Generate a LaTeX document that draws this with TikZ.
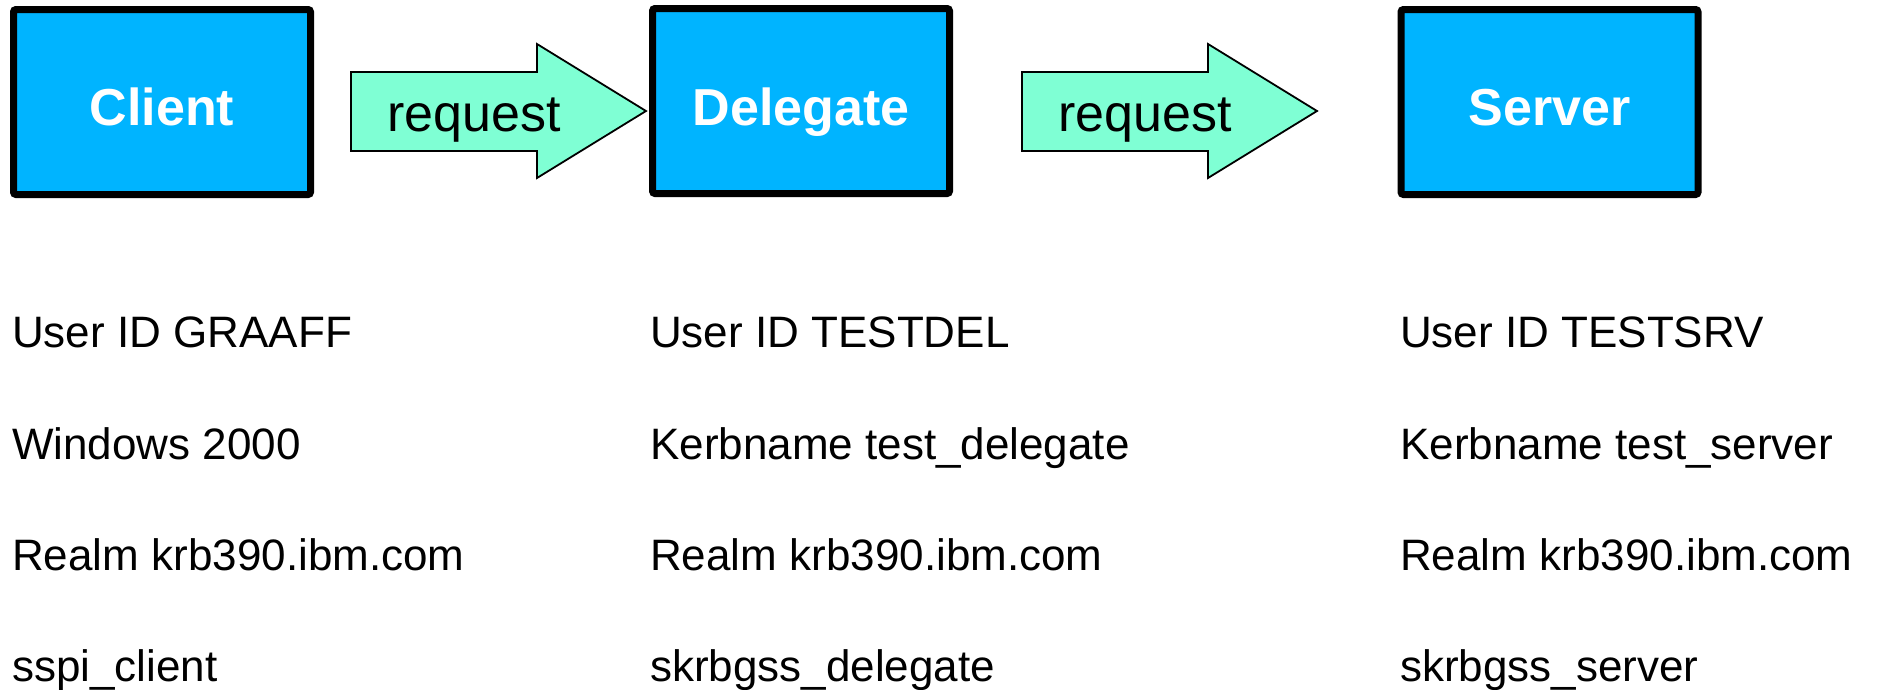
\documentclass[tikz,border=0pt]{standalone}
\usepackage{fontspec}
\setmainfont{Liberation Sans}
\definecolor{boxblue}{RGB}{0,180,255}
\definecolor{arrowgreen}{RGB}{127,255,212}
\begin{document}
\begin{tikzpicture}[x=1pt,y=-1pt,
  hostbox/.style={draw=black, line width=7pt, fill=boxblue, rounded corners=2.5pt,
    minimum width=297pt, minimum height=185pt, inner sep=0pt},
  hostlabel/.style={anchor=base, text=white, inner sep=0pt,
    font=\fontsize{52}{60}\selectfont\bfseries},
  blockarrow/.style={draw=black, line width=1.8pt, fill=arrowgreen, line join=miter},
  reqlabel/.style={anchor=base west, inner sep=0pt, font=\fontsize{52}{60}\selectfont},
  info/.style={anchor=base west, inner sep=0pt, font=\fontsize{44}{52}\selectfont},
  request arrow/.pic={
    \draw[blockarrow] (0,-39) -- (186,-39) -- (186,-67) -- (295,0)
      -- (186,67) -- (186,40) -- (0,40) -- cycle;
    \node[reqlabel] (-text) at (36,20) {request};
  }]
\useasboundingbox (0,0) rectangle (1877,689);

% the three hosts
\node[hostbox] (client)   at (162,102)    {};
\node[hostbox] (delegate) at (801,101)    {};
\node[hostbox] (server)   at (1549.5,102) {};

\node[hostlabel] (clientlbl)   at (client.center   |- 0,125) {Client};
\node[hostlabel] (delegatelbl) at (delegate.center |- 0,125) {Delegate};
\node[hostlabel] (serverlbl)   at (server.center   |- 0,125) {Server};

% request arrows
\pic (reqA) at (351,111)  {request arrow};
\pic (reqB) at (1022,111) {request arrow};

% host details
\node[info] (c1) at (12,347) {User ID GRAAFF};
\node[info] (c2) at (12,459) {Windows 2000};
\node[info] (c3) at (12,570) {Realm krb390.ibm.com};
\node[info] (c4) at (12,681) {sspi\_client};

\node[info] (d1) at (650,347) {User ID TESTDEL};
\node[info] (d2) at (650,459) {Kerbname test\_delegate};
\node[info] (d3) at (650,570) {Realm krb390.ibm.com};
\node[info] (d4) at (650,681) {skrbgss\_delegate};

\node[info] (s1) at (1400,347) {User ID TESTSRV};
\node[info] (s2) at (1400,459) {Kerbname test\_server};
\node[info] (s3) at (1400,570) {Realm krb390.ibm.com};
\node[info] (s4) at (1400,681) {skrbgss\_server};
\end{tikzpicture}
\end{document}
